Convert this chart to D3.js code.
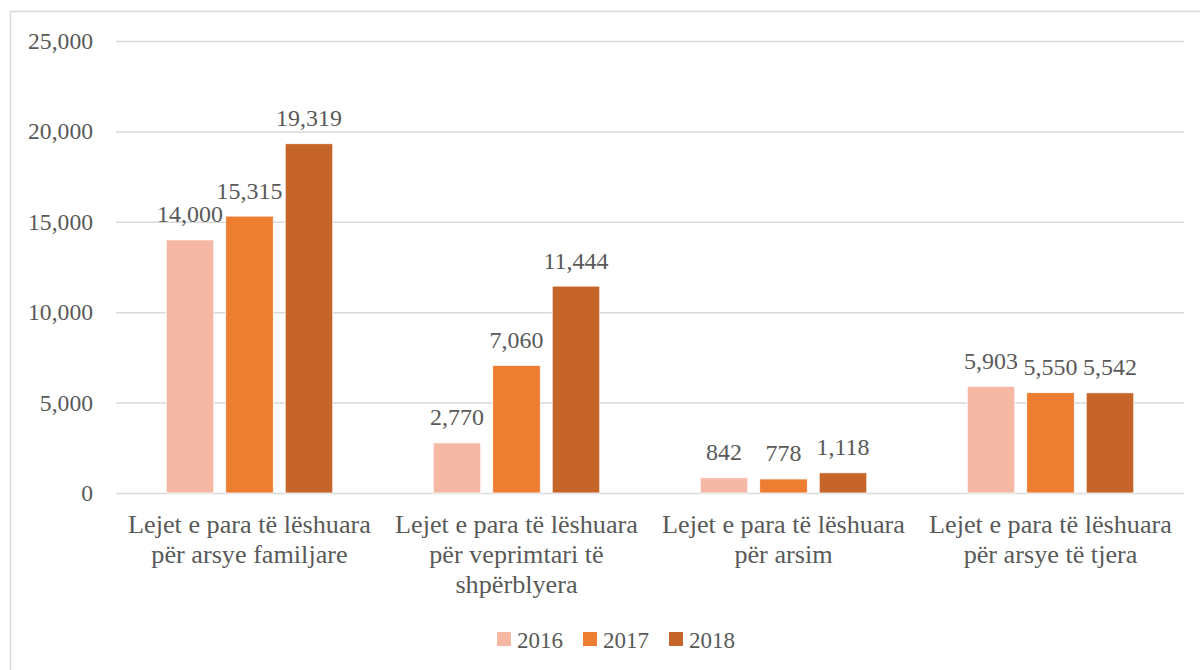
<!DOCTYPE html>
<html>
<head>
<meta charset="utf-8">
<script src="https://cdn.jsdelivr.net/npm/d3@7"></script>
<style>
  html, body { margin: 0; padding: 0; background: #fff; }
  svg { display: block; }
</style>
</head>
<body>
<svg id="chart" width="1200" height="670"></svg>
<script>
const categories = [
  "Lejet e para të lëshuara për arsye familjare",
  "Lejet e para të lëshuara për veprimtari të shpërblyera",
  "Lejet e para të lëshuara për arsim",
  "Lejet e para të lëshuara për arsye të tjera"
];
const years = ["2016", "2017", "2018"];
const values2016 = [14000, 2770, 842, 5903];
const values2017 = [15315, 7060, 778, 5550];
const values2018 = [19319, 11444, 1118, 5542];
const yTicks = [0, 5000, 10000, 15000, 20000, 25000];
const colors = ["#F5B8A5", "#ED7D31", "#C5652A"];

const series = [values2016, values2017, values2018];

(function () {
const FAM = "'Liberation Serif', 'Times New Roman', serif";

const svg = d3.select("#chart");
svg.style("font-family", FAM);

function fit(str, target) {
  const t = svg.append("text").style("font-family", FAM).style("font-size", "100px").text(str);
  const w = t.node().getComputedTextLength();
  t.remove();
  return 100 * target / w;
}
const fsValue = fit("11,444", 65);
const fsAxis = fit("25,000", 65);
const fsCat = fit("Lejet e para të lëshuara", 243);
const fsLeg = fit("2016", 46);
const textColor = "#595959";

// outer border
svg.append("rect").attr("x", 10.5).attr("y", 11.5).attr("width", 1200).attr("height", 680)
  .attr("fill", "#fff").attr("stroke", "#D9D9D9").attr("stroke-width", 1.5);

const mLeft = 116, mRight = 1184, mTop = 41, mBottom = 493;

const x0 = d3.scaleBand().domain(categories).range([mLeft, mRight]);
const x1 = d3.scaleBand().domain(years).range([0, x0.bandwidth()])
  .paddingInner(0.2).paddingOuter(0.844);
const y = d3.scaleLinear().domain([0, 25000]).range([mBottom, mTop]);
const color = d3.scaleOrdinal().domain(years).range(colors);
const fmt = d3.format(",");

// y axis with gridlines
const yAxis = svg.append("g").attr("transform", `translate(${mLeft},0)`)
  .call(d3.axisLeft(y).tickValues(yTicks).tickFormat(fmt)
    .tickSize(-(mRight - mLeft)).tickPadding(23));
yAxis.attr("font-family", null);
yAxis.select(".domain").remove();
yAxis.selectAll(".tick line").attr("stroke", "#D9D9D9").attr("stroke-width", 1.5);
yAxis.selectAll(".tick text").style("font-family", FAM)
  .style("font-size", fsAxis + "px").attr("fill", textColor);

// bars
const groups = svg.append("g").selectAll("g").data(categories).join("g")
  .attr("transform", d => `translate(${x0(d)},0)`);

const flat = (ci) => years.map((yr, si) => ({ yr, v: series[si][ci] }));

groups.selectAll("rect").data((d, ci) => flat(ci)).join("rect")
  .attr("x", d => x1(d.yr))
  .attr("y", d => y(d.v))
  .attr("width", x1.bandwidth())
  .attr("height", d => y(0) - y(d.v))
  .attr("fill", d => color(d.yr))
  .attr("stroke", "#fff").attr("stroke-width", 0.8);

groups.selectAll("text.val").data((d, ci) => flat(ci)).join("text")
  .attr("class", "val")
  .attr("x", d => x1(d.yr) + x1.bandwidth() / 2)
  .attr("y", d => y(d.v) - 17.5)
  .attr("text-anchor", "middle")
  .attr("fill", textColor)
  .style("font-size", fsValue + "px")
  .text(d => fmt(d.v));

// category labels with wrapping
const catG = svg.append("g");
categories.forEach(cat => {
  const cx = x0(cat) + x0.bandwidth() / 2;
  const t = catG.append("text")
    .attr("x", cx)
    .attr("y", 533)
    .attr("text-anchor", "middle")
    .attr("fill", textColor)
    .style("font-size", fsCat + "px");
  const words = cat.split(" ");
  let line = [];
  let tspan = t.append("tspan").attr("x", cx).attr("dy", 0);
  words.forEach(w => {
    line.push(w);
    tspan.text(line.join(" "));
    if (tspan.node().getComputedTextLength() > 250 && line.length > 1) {
      line.pop();
      tspan.text(line.join(" "));
      line = [w];
      tspan = t.append("tspan").attr("x", cx).attr("dy", 30).text(w);
    }
  });
});

// legend
const legend = svg.append("g").attr("transform", "translate(497,639)");
let lx = 0;
years.forEach(yr => {
  const g = legend.append("g").attr("transform", `translate(${lx},0)`);
  g.append("rect").attr("x", 0).attr("y", -7).attr("width", 14).attr("height", 14)
    .attr("fill", color(yr));
  g.append("text").attr("x", 20).attr("y", 8.5).attr("fill", textColor)
    .style("font-size", fsLeg + "px").text(yr);
  lx += 86;
});
})();
</script>
</body>
</html>
